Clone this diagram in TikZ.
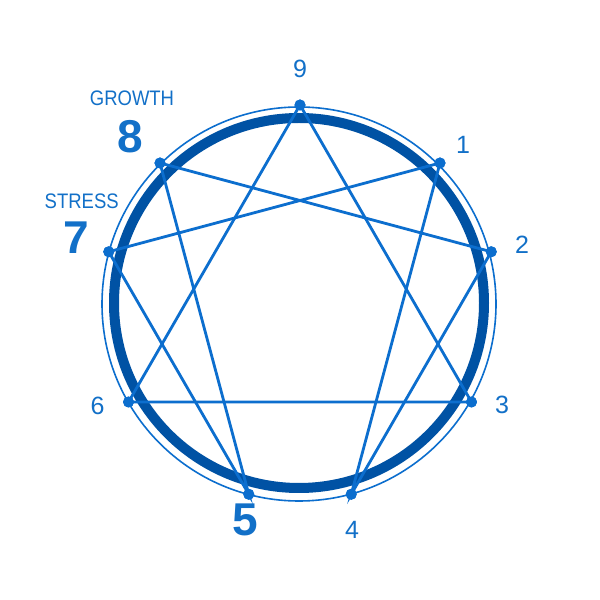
\documentclass[tikz,border=0pt]{standalone}
\usepackage{fontspec}
\usetikzlibrary{calc}
\setmainfont{Liberation Sans}
\newfontfamily\wordfont[FakeStretch=0.88]{Liberation Sans}
\definecolor{ringblue}{RGB}{0,82,164}
\definecolor{lineblue}{RGB}{12,110,206}
\definecolor{textblue}{RGB}{18,112,200}
\tikzset{
  dot/.style={circle,fill=lineblue,draw=none,minimum size=11pt,inner sep=0pt},
  link/.style={draw=lineblue,line width=2.8pt},
  numlab/.style={text=textblue,inner sep=0pt,font=\fontsize{25}{25}\selectfont},
  biglab/.style={text=textblue,inner sep=0pt,font=\fontsize{46}{46}\selectfont\bfseries},
  wordlab/.style={text=textblue,inner sep=0pt,font=\wordfont\fontsize{21}{21}\selectfont}
}
\begin{document}
\begin{tikzpicture}[x=1pt,y=1pt]
\useasboundingbox (0,0) rectangle (600,600);
\fill[white] (0,0) rectangle (600,600);
% rings
\draw[lineblue,line width=1.6pt] (299,296) circle[radius=197];
\draw[ringblue,line width=10pt] (299,297) circle[radius=185];
% points
\coordinate (c) at (300,297);
\node[dot] (p9) at ($(c)+(90:198)$) {};
\node[dot] (p1) at ($(c)+(45:198)$) {};
\node[dot] (p2) at ($(c)+(15:198)$) {};
\node[dot] (p3) at ($(c)+(-30:198)$) {};
\node[dot] (p4) at ($(c)+(-75:198)$) {};
\node[dot] (p5) at ($(c)+(-105:198)$) {};
\node[dot] (p6) at ($(c)+(-150:198)$) {};
\node[dot] (p7) at ($(c)+(165:198)$) {};
\node[dot] (p8) at ($(c)+(135:198)$) {};
% connectors
\draw[link] (p9.center) -- (p3.center) -- (p6.center) -- cycle;
\draw[link] (p1.center) -- (p4.center) -- (p2.center) -- (p8.center) -- (p5.center) -- (p7.center) -- cycle;
\foreach \p in {p9,p1,p2,p3,p4,p5,p6,p7,p8} \fill[lineblue] (\p) circle[radius=5.5];
% labels
\node[numlab] (l9) at (300,531) {9};
\node[numlab] (l1) at (463,455) {1};
\node[numlab] (l2) at (522,355) {2};
\node[numlab] (l3) at (502,195) {3};
\node[numlab] (l4) at (352,70) {4};
\node[numlab] (l6) at (97.5,194.5) {6};
\node[biglab] (l5) at (245.5,80.5) {5};
\node[biglab] (l7) at (75.8,362) {7};
\node[biglab] (l8) at (130,463) {8};
\node[wordlab] (g) at (132,501.7) {GROWTH};
\node[wordlab] (s) at (81.7,399.2) {STRESS};
\end{tikzpicture}
\end{document}
